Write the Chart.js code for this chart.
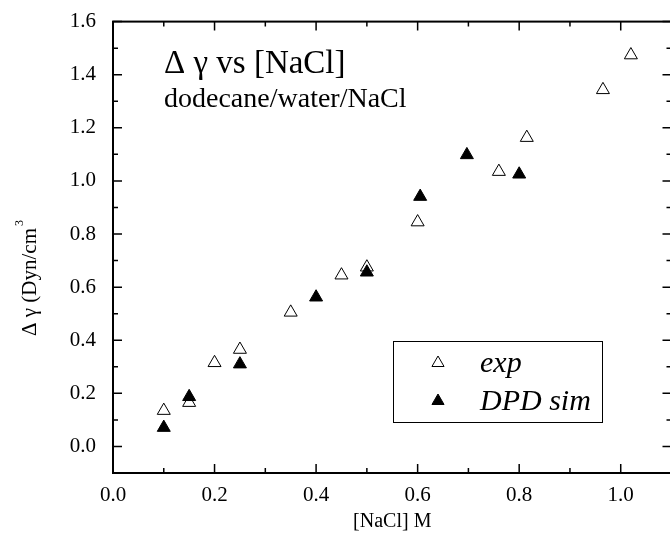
<!DOCTYPE html>
<html>
<head>
<meta charset="utf-8">
<title>Δγ vs [NaCl]</title>
<script src="https://cdn.jsdelivr.net/npm/chart.js@4/dist/chart.umd.min.js"></script>
<style>
  html, body { margin: 0; padding: 0; background: #fff; overflow: hidden; }
  #wrap { position: relative; width: 680px; height: 544px; }
</style>
</head>
<body>
<div id="wrap"><canvas id="chart"></canvas></div>
<script>
// experimental points
const expX = [0.10, 0.15, 0.20, 0.25, 0.35, 0.45, 0.50, 0.60, 0.76, 0.815, 0.965, 1.02];
const expY = [0.135, 0.165, 0.315, 0.365, 0.505, 0.645, 0.675, 0.845, 1.035, 1.163, 1.343, 1.474];
// DPD simulation points
const simX = [0.10, 0.15, 0.25, 0.40, 0.50, 0.605, 0.697, 0.80];
const simY = [0.071, 0.187, 0.31, 0.562, 0.656, 0.941, 1.098, 1.025];

// axis ticks
const xTicks = [0.0, 0.2, 0.4, 0.6, 0.8, 1.0];
const xMinor = [0.1, 0.3, 0.5, 0.7, 0.9];
const yTicks = [0.0, 0.2, 0.4, 0.6, 0.8, 1.0, 1.2, 1.4, 1.6];
const yMinor = [0.1, 0.3, 0.5, 0.7, 0.9, 1.1, 1.3, 1.5];

const SERIF = "'Liberation Serif', 'Times New Roman', serif";

const toPoints = (xs, ys) => xs.map((x, i) => ({ x: x, y: ys[i] }));

// frame with inward ticks on all four sides, plus text annotations
const framePlugin = {
  id: 'frame',
  afterDraw(chart) {
    const ctx = chart.ctx;
    const { left, right, top, bottom } = chart.chartArea;
    const xs = chart.scales.x, ys = chart.scales.y;

    ctx.save();
    ctx.strokeStyle = '#000';
    ctx.lineWidth = 2;
    ctx.strokeRect(left, top, right - left, bottom - top);

    ctx.lineWidth = 1.5;
    const tickX = (vals, len) => vals.forEach(v => {
      const px = xs.getPixelForValue(v);
      ctx.beginPath();
      ctx.moveTo(px, bottom); ctx.lineTo(px, bottom - len);
      ctx.moveTo(px, top); ctx.lineTo(px, top + len);
      ctx.stroke();
    });
    const tickY = (vals, len) => vals.forEach(v => {
      const py = ys.getPixelForValue(v);
      ctx.beginPath();
      ctx.moveTo(left, py); ctx.lineTo(left + len, py);
      ctx.moveTo(right, py); ctx.lineTo(right - len, py);
      ctx.stroke();
    });
    tickX(xTicks, 9); tickX(xMinor, 5);
    tickY(yTicks, 9); tickY(yMinor, 5);

    // title block
    ctx.fillStyle = '#000';
    ctx.textAlign = 'left';
    ctx.textBaseline = 'alphabetic';
    ctx.font = '33px ' + SERIF;
    ctx.fillText('\u0394 \u03b3 vs [NaCl]', 164, 73);
    ctx.font = '28px ' + SERIF;
    ctx.fillText('dodecane/water/NaCl', 164, 107);

    // legend
    ctx.lineWidth = 1;
    ctx.strokeRect(393.5, 341.5, 209, 81);
    const H = Chart.helpers;
    ctx.strokeStyle = '#000';
    ctx.fillStyle = '#fff';
    H.drawPoint(ctx, { pointStyle: 'triangle', radius: 7, borderWidth: 1 }, 438, 363);
    ctx.fillStyle = '#000';
    H.drawPoint(ctx, { pointStyle: 'triangle', radius: 7, borderWidth: 1 }, 438, 401);
    ctx.font = 'italic 30px ' + SERIF;
    ctx.fillText('exp', 480, 372);
    ctx.fillText('DPD sim', 480, 410);

    // axis titles
    ctx.font = '20px ' + SERIF;
    ctx.textAlign = 'center';
    ctx.fillText('[NaCl] M', (left + right) / 2, 527);

    ctx.save();
    ctx.translate(36, 279);
    ctx.rotate(-Math.PI / 2);
    const main = '\u0394 \u03b3 (Dyn/cm';
    ctx.font = '21px ' + SERIF;
    const w = ctx.measureText(main).width;
    ctx.font = '12px ' + SERIF;
    const sw = ctx.measureText('3').width;
    const start = -(w + sw) / 2;
    ctx.textAlign = 'left';
    ctx.font = '21px ' + SERIF;
    ctx.fillText(main, start, 0);
    ctx.font = '12px ' + SERIF;
    ctx.fillText('3', start + w + 2, -13);
    ctx.restore();

    ctx.restore();
  }
};

new Chart(document.getElementById('chart'), {
  type: 'scatter',
  data: {
    datasets: [
      {
        label: 'exp',
        data: toPoints(expX, expY),
        pointStyle: 'triangle',
        pointRadius: 7.5,
        pointHoverRadius: 7.5,
        backgroundColor: '#fff',
        borderColor: '#000',
        borderWidth: 1,
        order: 1
      },
      {
        label: 'DPD sim',
        data: toPoints(simX, simY),
        pointStyle: 'triangle',
        pointRadius: 7.5,
        pointHoverRadius: 7.5,
        backgroundColor: '#000',
        borderColor: '#000',
        borderWidth: 1,
        order: 0
      }
    ]
  },
  options: {
    responsive: true,
    maintainAspectRatio: false,
    animation: false,
    layout: { padding: { top: 19, right: 7, left: 0, bottom: 0 } },
    plugins: { legend: { display: false }, tooltip: { enabled: false } },
    scales: {
      x: {
        type: 'linear',
        min: 0, max: 1.1,
        afterBuildTicks: s => { s.ticks = xTicks.map(v => ({ value: v })); },
        afterFit: s => { s.height = 71; },
        grid: { display: false },
        border: { display: false },
        ticks: {
          color: '#000', padding: 2,
          font: { family: SERIF, size: 21 },
          callback: v => v.toFixed(1)
        }
      },
      y: {
        type: 'linear',
        min: -0.1, max: 1.6,
        afterBuildTicks: s => { s.ticks = yTicks.map(v => ({ value: v })); },
        afterFit: s => { s.width = 113; },
        grid: { display: false },
        border: { display: false },
        ticks: {
          color: '#000', padding: 9,
          font: { family: SERIF, size: 21 },
          callback: v => v.toFixed(1)
        }
      }
    }
  },
  plugins: [framePlugin]
});
</script>
</body>
</html>
